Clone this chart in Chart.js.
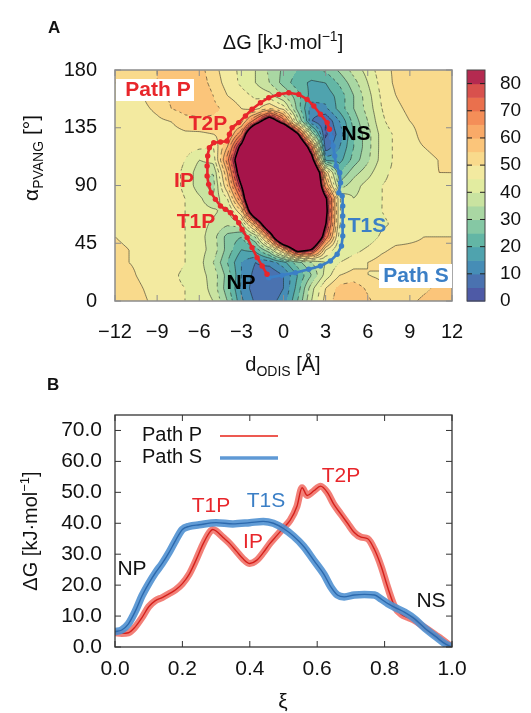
<!DOCTYPE html>
<html><head><meta charset="utf-8">
<script src="https://cdn.jsdelivr.net/npm/chart.js@4.4.1/dist/chart.umd.min.js"></script>
<style>
html,body{margin:0;padding:0;background:#fff;}
#wrap{position:relative;width:531px;height:713px;overflow:hidden;background:#fff;}
canvas{position:absolute;left:0;}
</style></head><body>
<div id="wrap">
<canvas id="cA" width="531" height="380" style="top:0px"></canvas>
<canvas id="cB" width="531" height="348" style="top:365px"></canvas>
</div>
<script>
// ---------------- Panel A data ----------------
const gridX = [-12,-11,-10,-9,-8,-7,-6,-5,-4,-3,-2,-1,0,1,2,3,4,5,6,7,8,9,10,11,12];
const gridY = [0,10,20,30,40,50,60,70,80,90,100,110,120,130,140,150,160,170,180];
const row0   = [54,53,51,48,46,45,43,40,30,16, 9,8,12,25,40,52,58,60,56,52, 52,54,56,57,57];
const row10  = [53,52,50,47,46,45,43,38,27,14, 7,6,10,22,38,50,57,58,54,51, 51,52,54,56,56];
const row20  = [52,51,49,47,46,44,42,38,28,15, 8,5,10,20,30,42,50,52,50,49, 50,52,54,55,55];
const row30  = [51,50,49,48,47,45,42,35,25,15, 10,12,18,28,35,40,45,48,50,52, 53,53,54,54,54];
const row40  = [51,50,49,48,47,45,42,38,28,20, 22,35,60,95,85,50,40,43,46,49, 51,51,51,51,51];
const row50  = [50,49,49,48,47,45,42,37,28,25, 35,70,125,130,120,75,42,40,42,46, 48,49,50,50,50];
const row60  = [50,49,49,48,47,45,42,39,36,38, 65,110,130,130,130,86,45,40,41,44, 46,48,49,49,49];
const row70  = [50,49,49,48,47,45,42,41,38,55, 110,130,130,130,130,90,45,40,42,45, 47,48,49,49,49];
const row80  = [50,49,49,48,47,45,41,36,45,72, 130,130,130,130,130,88,45,40,42,45, 46,47,48,49,49];
const row90  = [50,49,49,48,47,44,37,33,55,85, 130,130,130,130,130,65,32,38,42,45, 46,47,48,49,49];
const row100 = [50,49,49,48,47,44,37,35,60,95, 130,130,130,130,125,55,25,33,38,44, 46,48,49,50,50];
const row110 = [50,49,49,48,47,45,40,42,68,100, 130,130,130,130,95,18,18,27,34,42, 46,48,49,50,51];
const row120 = [49,49,48,48,48,47,46,45,60,90, 130,130,130,120,72,6,15,25,33,42, 46,49,50,51,52];
const row130 = [49,48,48,48,48,49,49,50,52,70, 120,130,130,88,35,4,12,25,33,42, 46,49,51,52,52];
const row140 = [48,48,48,49,50,53,54,54,53,53, 75,100,75,38,10,5,15,27,35,44, 48,50,51,52,52];
const row150 = [48,48,49,51,55,57,57,56,54,50, 48,55,48,28,12,14,22,30,37,45, 49,51,52,52,52];
const row160 = [48,48,50,53,56,59,60,55,50,47, 44,42,35,27,18,17,22,30,38,46, 50,52,53,53,52];
const row170 = [50,51,53,55,57,58,58,53,48,44, 40,35,28,22,19,20,26,33,40,47, 51,53,53,52,51];
const row180 = [51,52,53,55,57,58,57,52,47,44, 40,34,29,25,24,26,31,37,42,48, 51,52,52,52,51];
const gridRows = [row0,row10,row20,row30,row40,row50,row60,row70,row80,row90,row100,row110,row120,row130,row140,row150,row160,row170,row180];

const pathPX = [-1.17,-1.52,-1.88,-2.24,-2.59,-2.95,-3.19,-3.43,-3.78,-4.14,-4.49,-4.85,-5.16,-5.33,-5.44,-5.44,-5.40,-5.28,-4.97,-4.49,-4.02,-3.85,-3.66,-3.19,-2.71,-2.24,-1.64,-1.05,-0.34,0.38,1.09,1.68,2.16,2.63,3.11,3.27];
const pathPY = [20.8,27.3,33.8,41.6,49.4,55.8,61.0,64.9,68.8,71.4,74.0,79.2,84.4,90.9,97.4,105.2,113.0,119.5,123.4,123.9,124.7,129.9,135.1,139.0,144.2,149.4,154.5,158.4,161.0,162.3,161.0,157.1,151.9,145.5,139.0,133.8];
const pathSX = [-1.05,-0.10,0.85,1.80,2.63,3.34,3.82,4.13,4.22,4.22,4.22,4.22,4.18,3.94,4.06,4.01,3.75,3.65,3.53,3.42,3.32];
const pathSY = [18.2,20.0,22.1,24.7,27.3,31.2,36.4,42.9,50.6,58.4,66.2,74.0,81.8,84.4,92.2,100.0,105.2,113.0,120.8,127.3,132.5];

const mapTicksX = [-12,-9,-6,-3,0,3,6,9,12];
const mapTicksY = [0,45,90,135,180];
const cbTicks = [0,10,20,30,40,50,60,70,80];
const cbLevels = [0,5,10,15,20,25,30,35,40,45,50,55,60,65,70,75,80,85];

// ---------------- Panel B data ----------------
const xiP = [0,0.02,0.04,0.06,0.08,0.10,0.12,0.14,0.16,0.18,0.20,0.22,0.24,0.26,0.28,0.29,0.30,0.32,0.34,0.36,0.38,0.40,0.42,0.44,0.46,0.48,0.50,0.52,0.54,0.555,0.57,0.59,0.61,0.63,0.65,0.67,0.69,0.71,0.73,0.75,0.77,0.79,0.81,0.83,0.85,0.87,0.89,0.91,0.93,0.95,0.97,1.0];
const gP  = [4.6,4.4,4.6,6.5,9.5,13.0,15.0,16.0,17.2,18.5,20.5,23.5,28.0,33.0,37.0,38.0,37.5,35.5,33.5,31.0,28.5,27.0,28.0,30.5,33.5,36.0,38.5,41.0,45.5,51.5,49.0,50.5,52.0,50.0,46.0,43.0,40.0,37.0,35.5,35.0,31.5,26.0,19.0,13.0,10.5,9.5,8.5,7.0,5.5,4.0,2.5,0.0];
const xiS = [0,0.02,0.04,0.06,0.08,0.10,0.12,0.14,0.16,0.18,0.20,0.22,0.25,0.30,0.35,0.40,0.44,0.47,0.50,0.53,0.56,0.59,0.62,0.64,0.66,0.68,0.71,0.74,0.77,0.79,0.81,0.83,0.86,0.89,0.92,0.95,0.98,1.0];
const gS  = [5.0,5.5,7.5,11.5,16.5,20.5,24.0,27.0,30.5,34.5,38.0,39.0,39.5,40.2,39.8,40.2,40.6,40.0,38.3,35.8,32.5,28.0,23.5,19.5,16.8,16.2,16.8,17.0,16.8,15.5,14.0,12.8,11.2,9.0,6.0,3.5,1.0,0.0];
const profTicksX = [0,0.2,0.4,0.6,0.8,1.0];
const profTicksY = [0,10,20,30,40,50,60,70];

// ---------------- styles ----------------
const FONT = '"Liberation Sans", Arial, Helvetica, sans-serif';
Chart.defaults.font.family = FONT;
const bandColors = ['#4e5aa6','#4a72b0','#468db6','#4fa3ae','#63b6a5','#85c8a4','#a9d7a3','#c9e3a0','#e2eca0','#f3eaa0','#f9da8c','#fbc57a','#f9aa68','#f48e58','#ea704d','#d8514d','#b42a50'];
const blobColor = '#a6144a';
const RED = '#e8262b', BLUE = '#3b7fc6';

function hexRgb(h){return [parseInt(h.substr(1,2),16),parseInt(h.substr(3,2),16),parseInt(h.substr(5,2),16)];}
const bandRgb = bandColors.map(hexRgb), blobRgb = hexRgb(blobColor);

function fieldAt(x,y){
  const nx=gridX.length, ny=gridY.length;
  let fx=(x-gridX[0])/(gridX[1]-gridX[0]), fy=(y-gridY[0])/(gridY[1]-gridY[0]);
  let i=Math.min(Math.max(Math.floor(fx),0),nx-2), j=Math.min(Math.max(Math.floor(fy),0),ny-2);
  const tx=Math.min(Math.max(fx-i,0),1), ty=Math.min(Math.max(fy-j,0),1);
  const a=gridRows[j][i], b=gridRows[j][i+1], c=gridRows[j+1][i], d=gridRows[j+1][i+1];
  return (a*(1-tx)+b*tx)*(1-ty)+(c*(1-tx)+d*tx)*ty;
}

function drawContour(ctx, vals, w, h, ox, oy, level, step, dashed){
  ctx.beginPath();
  const V=(i,j)=>vals[Math.min(j,h-1)*w+Math.min(i,w-1)];
  for(let j=0;j+step<h;j+=step){
    for(let i=0;i+step<w;i+=step){
      const a=V(i,j), b=V(i+step,j), c=V(i+step,j+step), d=V(i,j+step);
      const pts=[];
      if((a>=level)!==(b>=level)){const t=(level-a)/(b-a); pts.push([i+t*step,j]);}
      if((b>=level)!==(c>=level)){const t=(level-b)/(c-b); pts.push([i+step,j+t*step]);}
      if((d>=level)!==(c>=level)){const t=(level-d)/(c-d); pts.push([i+t*step,j+step]);}
      if((a>=level)!==(d>=level)){const t=(level-a)/(d-a); pts.push([i,j+t*step]);}
      if(pts.length<2) continue;
      if(dashed && (((i+j)/step)%4)>=2) continue;
      ctx.moveTo(ox+pts[0][0]+0.5,oy+pts[0][1]+0.5); ctx.lineTo(ox+pts[1][0]+0.5,oy+pts[1][1]+0.5);
      if(pts.length===4){ctx.moveTo(ox+pts[2][0]+0.5,oy+pts[2][1]+0.5); ctx.lineTo(ox+pts[3][0]+0.5,oy+pts[3][1]+0.5);}
    }
  }
  ctx.stroke();
}

const heatmapPlugin = {
  id:'heatmap',
  beforeDatasetsDraw(chart){
    const {ctx, chartArea:ca} = chart, xs=chart.scales.x, ys=chart.scales.y;
    const w=Math.round(ca.right-ca.left), h=Math.round(ca.bottom-ca.top);
    const off=document.createElement('canvas'); off.width=w; off.height=h;
    const octx=off.getContext('2d'); const img=octx.createImageData(w,h);
    const vals=new Float32Array(w*h);
    const colX=[]; for(let i=0;i<w;i++) colX.push(xs.getValueForPixel(ca.left+i+0.5));
    for(let j=0;j<h;j++){
      const yv=ys.getValueForPixel(ca.top+j+0.5);
      for(let i=0;i<w;i++){
        const v=fieldAt(colX[i],yv); vals[j*w+i]=v;
        const k=Math.floor(v/5);
        const col = v>=85 ? blobRgb : bandRgb[Math.min(Math.max(k,0),bandRgb.length-1)];
        const p=(j*w+i)*4; img.data[p]=col[0]; img.data[p+1]=col[1]; img.data[p+2]=col[2]; img.data[p+3]=255;
      }
    }
    octx.putImageData(img,0,0);
    ctx.save();
    ctx.drawImage(off, ca.left, ca.top);
    ctx.strokeStyle='rgba(25,25,25,0.75)'; ctx.lineWidth=0.7;
    for(const L of cbLevels){
      if(L<=0||L>=85) continue;
      drawContour(ctx, vals, w, h, ca.left, ca.top, L, 2, (L%10)!==0);
    }
    ctx.strokeStyle='#000'; ctx.lineWidth=1.6;
    drawContour(ctx, vals, w, h, ca.left, ca.top, 85, 2, false);
    ctx.restore();
  }
};

function richWidth(ctx, parts){
  let tw=0; for(const p of parts){ctx.font=(p.bold?'bold ':'')+p.size+'px '+FONT; tw+=ctx.measureText(p.t).width;} return tw;
}
function drawRich(ctx, parts, x, y, align){
  const tw=richWidth(ctx,parts);
  let cx = align==='center' ? x-tw/2 : (align==='right'? x-tw : x);
  ctx.textAlign='left'; ctx.textBaseline='alphabetic';
  for(const p of parts){
    ctx.font=(p.bold?'bold ':'')+p.size+'px '+FONT;
    ctx.fillText(p.t, cx, y+(p.dy||0));
    cx+=ctx.measureText(p.t).width;
  }
}
function label(ctx, t, x, y, color, font, box){
  ctx.font=font; ctx.textAlign='center'; ctx.textBaseline='middle';
  if(box){ctx.fillStyle='#fff'; ctx.fillRect(box[0],box[1],box[2],box[3]);}
  ctx.fillStyle=color; ctx.fillText(t,x,y);
}
function seg(ctx,x1,y1,x2,y2){ctx.beginPath();ctx.moveTo(x1,y1);ctx.lineTo(x2,y2);ctx.stroke();}

const mapDecorPlugin = {
  id:'mapDecor',
  afterDraw(chart){
    const {ctx, chartArea:ca} = chart, xs=chart.scales.x, ys=chart.scales.y, cb=chart.scales.cb;
    ctx.save();
    ctx.strokeStyle='#8c8c8c'; ctx.lineWidth=1.5;
    ctx.strokeRect(ca.left, ca.top, ca.right-ca.left, ca.bottom-ca.top);
    ctx.lineWidth=1;
    mapTicksX.forEach(v=>{const p=xs.getPixelForValue(v); seg(ctx,p,ca.top,p,ca.top+6); seg(ctx,p,ca.bottom,p,ca.bottom-6);});
    mapTicksY.forEach(v=>{const p=ys.getPixelForValue(v); seg(ctx,ca.left,p,ca.left+6,p); seg(ctx,ca.right,p,ca.right-6,p);});
    // colour bar
    const x0=ca.right+15, x1=ca.right+33;
    for(let k=0;k<bandColors.length;k++){
      const yb=cb.getPixelForValue(cbLevels[k]), yt=cb.getPixelForValue(cbLevels[k+1]);
      ctx.fillStyle=bandColors[k]; ctx.fillRect(x0, yt, x1-x0, yb-yt+0.6);
    }
    ctx.strokeStyle='#444'; ctx.lineWidth=1;
    ctx.strokeRect(x0, cb.getPixelForValue(85), x1-x0, cb.getPixelForValue(0)-cb.getPixelForValue(85));
    ctx.strokeStyle='#222';
    cbTicks.forEach(v=>{ if(v===0) return; const p=cb.getPixelForValue(v); seg(ctx,x0,p,x0+5,p); seg(ctx,x1-5,p,x1,p);});
    // titles
    ctx.fillStyle='#111';
    ctx.font='bold 17px '+FONT; ctx.textAlign='left'; ctx.textBaseline='alphabetic';
    ctx.fillText('A', 48, 33);
    drawRich(ctx,[{t:'ΔG [kJ·mol',size:20},{t:'−1',size:14,dy:-8},{t:']',size:20}], 283, 49, 'center');
    drawRich(ctx,[{t:'d',size:20},{t:'ODIS',size:14,dy:5},{t:' [Å]',size:20}], 283, 371, 'center');
    ctx.save(); ctx.translate(38, 158); ctx.rotate(-Math.PI/2);
    drawRich(ctx,[{t:'α',size:21},{t:'PVANG',size:14,dy:5},{t:' [°]',size:21}], 0, 0, 'center');
    ctx.restore();
    // annotations
    const BF='bold 21px '+FONT;
    label(ctx,'Path P',158,90,RED,BF,[116,79,78,22]);
    label(ctx,'T2P',208,124,RED,BF);
    label(ctx,'IP',184,181,RED,BF);
    label(ctx,'T1P',196,222,RED,BF);
    label(ctx,'NP',241,283,'#000',BF);
    label(ctx,'NS',356,134,'#000',BF);
    label(ctx,'T1S',367,226,BLUE,BF);
    label(ctx,'Path S',416,276,BLUE,BF,[379,264,73,24]);
    ctx.restore();
  }
};

const minusFmt = v => v<0 ? '−'+Math.abs(v) : String(v);
const tickFont = {size:20, family:FONT};

new Chart(document.getElementById('cA'), {
  type:'scatter',
  data:{datasets:[
    {label:'Path P', data:pathPX.map((x,i)=>({x:x,y:pathPY[i]})), showLine:true, borderColor:RED, backgroundColor:RED, borderWidth:2.6, pointRadius:2.7, pointBorderWidth:0, clip:0},
    {label:'Path S', data:pathSX.map((x,i)=>({x:x,y:pathSY[i]})), showLine:true, borderColor:BLUE, backgroundColor:BLUE, borderWidth:2.6, pointRadius:2.7, pointBorderWidth:0, clip:0}
  ]},
  options:{
    responsive:false, animation:false, devicePixelRatio:1,
    layout:{padding:{top:70,left:0,right:0,bottom:0}},
    plugins:{legend:{display:false}, tooltip:{enabled:false}},
    scales:{
      x:{type:'linear', min:-12, max:12, afterFit(s){s.height=79;}, afterBuildTicks(s){s.ticks=mapTicksX.map(v=>({value:v}));},
         grid:{display:false,drawTicks:false}, border:{display:false},
         ticks:{padding:19, font:tickFont, color:'#111', callback:minusFmt, maxRotation:0, autoSkip:false}},
      y:{type:'linear', position:'left', min:0, max:180, afterFit(s){s.width=115;}, afterBuildTicks(s){s.ticks=mapTicksY.map(v=>({value:v}));},
         grid:{display:false,drawTicks:false}, border:{display:false},
         ticks:{padding:18, font:tickFont, color:'#111', autoSkip:false}},
      cb:{type:'linear', position:'right', min:0, max:85, afterFit(s){s.width=79;}, afterBuildTicks(s){s.ticks=cbTicks.map(v=>({value:v}));},
         grid:{display:false,drawTicks:false}, border:{display:false},
         ticks:{padding:48, font:{size:19,family:FONT}, color:'#111', autoSkip:false}}
    }
  },
  plugins:[heatmapPlugin, mapDecorPlugin]
});

// ---------------- Panel B ----------------
const profDecorPlugin = {
  id:'profDecor',
  afterDraw(chart){
    const {ctx, chartArea:ca} = chart, xs=chart.scales.x, ys=chart.scales.y;
    ctx.save();
    ctx.strokeStyle='#333'; ctx.lineWidth=1.3;
    ctx.strokeRect(ca.left, ca.top, ca.right-ca.left, ca.bottom-ca.top);
    ctx.lineWidth=1;
    profTicksX.forEach(v=>{const p=xs.getPixelForValue(v); seg(ctx,p,ca.top,p,ca.top+6); seg(ctx,p,ca.bottom,p,ca.bottom-6);});
    profTicksY.forEach(v=>{const p=ys.getPixelForValue(v); seg(ctx,ca.left,p,ca.left+6,p); seg(ctx,ca.right,p,ca.right-6,p);});
    ctx.translate(0,-365);
    ctx.fillStyle='#111';
    ctx.font='bold 17px '+FONT; ctx.textAlign='left'; ctx.textBaseline='alphabetic';
    ctx.fillText('B', 47, 390);
    // legend
    ctx.font='20px '+FONT; ctx.textBaseline='middle'; ctx.fillStyle='#111';
    ctx.fillText('Path P', 142, 435); ctx.fillText('Path S', 142, 457);
    ctx.strokeStyle='rgba(236,80,72,0.95)'; ctx.lineWidth=2; seg(ctx,220,436,278,436);
    ctx.strokeStyle='rgba(78,142,208,0.9)'; ctx.lineWidth=3.5; seg(ctx,220,458,278,458);
    // annotations
    const F='21px '+FONT;
    label(ctx,'NP',132,569,'#111',F);
    label(ctx,'T1P',211,506,RED,F);
    label(ctx,'T1S',266,501,BLUE,F);
    label(ctx,'IP',253,542,RED,F);
    label(ctx,'T2P',341,476,RED,F);
    label(ctx,'NS',431,601,'#111',F);
    // axis titles
    ctx.fillStyle='#111';
    ctx.font='21px '+FONT; ctx.textAlign='center'; ctx.textBaseline='alphabetic';
    ctx.fillText('ξ', 283, 708);
    ctx.save(); ctx.translate(37, 531); ctx.rotate(-Math.PI/2);
    drawRich(ctx,[{t:'ΔG [kJ·mol',size:20},{t:'−1',size:13,dy:-8},{t:']',size:20}], 0, 0, 'center');
    ctx.restore();
    ctx.restore();
  }
};

const ptsP = xiP.map((x,i)=>({x:x,y:gP[i]}));
const ptsS = xiS.map((x,i)=>({x:x,y:gS[i]}));
const lineCommon = {pointRadius:0, cubicInterpolationMode:'monotone', clip:0, fill:false, borderCapStyle:'round', borderJoinStyle:'round'};

new Chart(document.getElementById('cB'), {
  type:'line',
  data:{datasets:[
    Object.assign({label:'S', data:ptsS, borderColor:'#2c69ad', borderWidth:1.4}, lineCommon),
    Object.assign({label:'S band', data:ptsS, borderColor:'rgba(80,145,210,0.9)', borderWidth:7.5}, lineCommon),
    Object.assign({label:'P', data:ptsP, borderColor:'#d4211c', borderWidth:1.4}, lineCommon),
    Object.assign({label:'P band', data:ptsP, borderColor:'rgba(240,105,95,0.85)', borderWidth:7}, lineCommon)
  ]},
  options:{
    responsive:false, animation:false, devicePixelRatio:1,
    layout:{padding:{top:50,left:0,right:79,bottom:0}},
    plugins:{legend:{display:false}, tooltip:{enabled:false}},
    scales:{
      x:{type:'linear', min:0, max:1, afterFit(s){s.height=66;}, afterBuildTicks(s){s.ticks=profTicksX.map(v=>({value:v}));},
         grid:{display:false,drawTicks:false}, border:{display:false},
         ticks:{padding:10, font:{size:21,family:FONT}, color:'#111', callback:v=>v.toFixed(1), maxRotation:0, autoSkip:false}},
      y:{type:'linear', min:0, max:75, afterFit(s){s.width=115;}, afterBuildTicks(s){s.ticks=profTicksY.map(v=>({value:v}));},
         grid:{display:false,drawTicks:false}, border:{display:false},
         ticks:{padding:13, font:{size:21,family:FONT}, color:'#111', callback:v=>v.toFixed(1), autoSkip:false}}
    }
  },
  plugins:[profDecorPlugin]
});
</script>
</body></html>
